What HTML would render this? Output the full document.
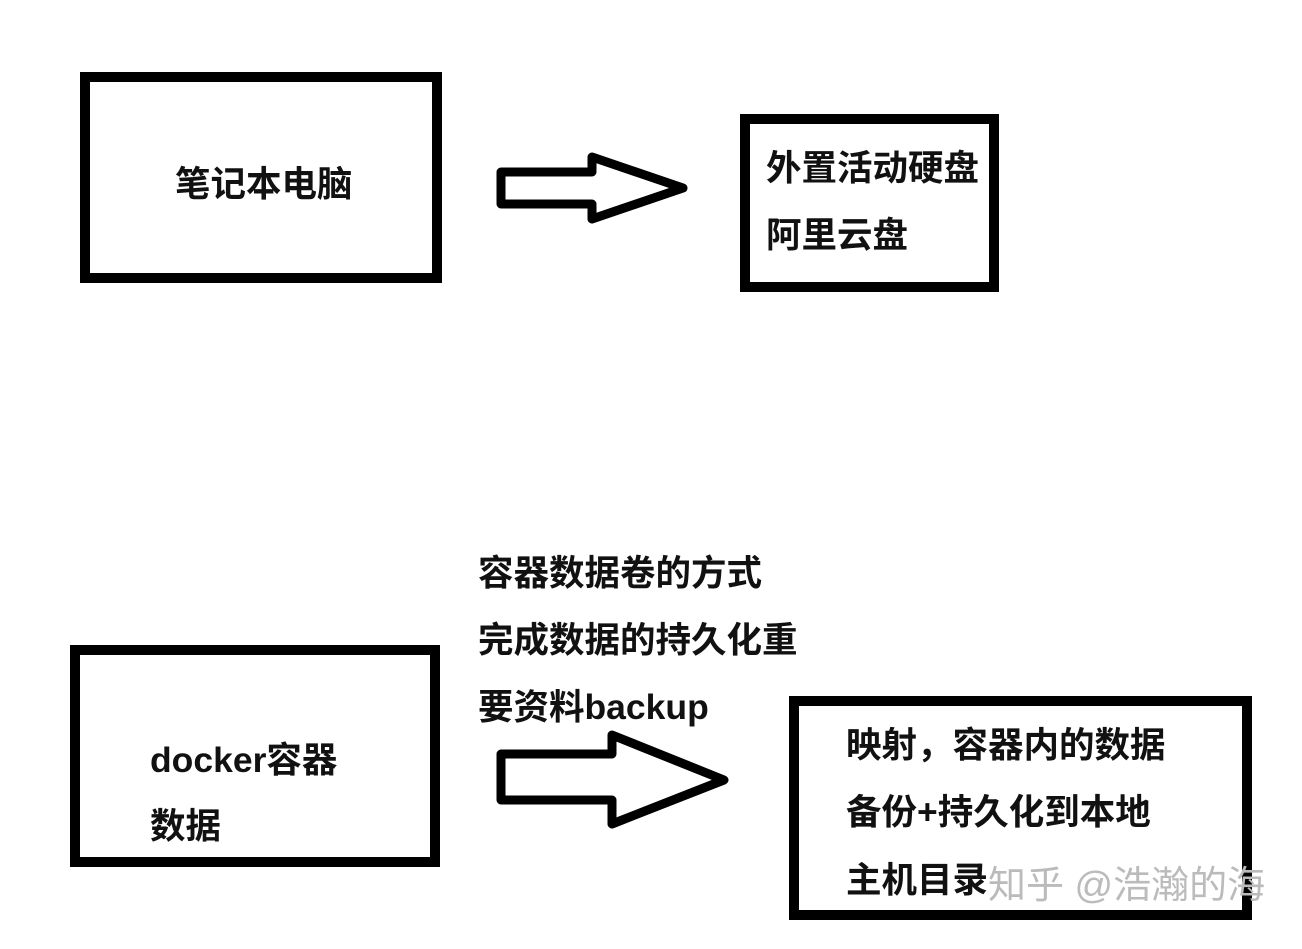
<!DOCTYPE html>
<html><head><meta charset="utf-8"><style>
body{margin:0;background:#fff;}
svg text{font-family:"Liberation Sans","Noto Sans CJK SC",sans-serif;font-weight:bold;font-size:35.5px;fill:#111;dominant-baseline:central;}
</style></head><body>
<svg width="1302" height="944" viewBox="0 0 1302 944">
<g fill="none" stroke="#000" stroke-width="10" stroke-linejoin="miter">
<rect x="85" y="77" width="352" height="201"/>
<rect x="745" y="119" width="249" height="168"/>
<rect x="75" y="650" width="360" height="212"/>
<rect x="794" y="701" width="453" height="214"/>
</g>
<g fill="none" stroke="#000" stroke-width="9" stroke-linejoin="round">
<polygon points="501,172 592,172 592,157 683,188 592,219 592,204 501,204"/>
<polygon points="501,754 612,754 612,735 724,780 612,824 612,800 501,800"/>
</g>
<text x="175" y="184">笔记本电脑</text>
<text x="766" y="168">外置活动硬盘</text>
<text x="766" y="235">阿里云盘</text>
<text x="478" y="573">容器数据卷的方式</text>
<text x="478" y="640">完成数据的持久化重</text>
<text x="478" y="707">要资料backup</text>
<text x="150" y="760">docker容器</text>
<text x="150" y="826">数据</text>
<text x="846" y="745">映射，容器内的数据</text>
<text x="846" y="812">备份+持久化到本地</text>
<text x="846" y="880">主机目录</text>
<text x="988" y="886" style="font-weight:normal;font-size:38px;fill:#bbb">知乎 @浩瀚的海</text>
</svg>
</body></html>
